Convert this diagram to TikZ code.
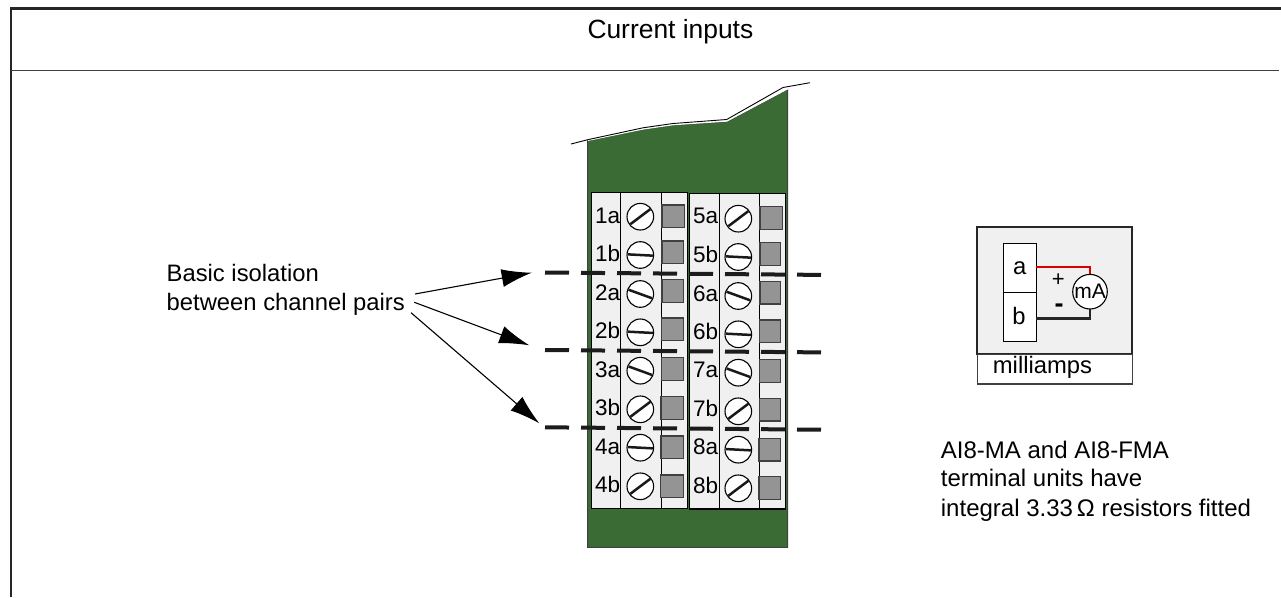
\documentclass[tikz,border=0pt]{standalone}
\usepackage{fontspec}
\setmainfont{Liberation Sans}
\usetikzlibrary{arrows.meta, calc}
\definecolor{boardgreen}{HTML}{3A6B35}
\definecolor{stripgray}{HTML}{F0F0F0}
\definecolor{pingray}{HTML}{949494}
\definecolor{dashblack}{HTML}{1C1C1C}
\tikzset{
  txt/.style={inner sep=0pt, anchor=base west, font=\fontsize{23.8}{29}\selectfont},
  strip/.style={draw=black, line width=1.1pt, fill=stripgray},
  pin/.style={draw=black!75, line width=1.1pt, fill=pingray},
  screw/.style={draw=black, line width=1.1pt, fill=white, circle, minimum size=26.6pt, inner sep=0pt},
  slot/.style={line width=2.5pt, black!90},
  iso/.style={line width=4pt, dashblack, dash pattern=on 24pt off 12pt},
  callout/.style={line width=1.1pt, -{Latex[length=30pt,width=18pt]}}
}
\newcommand{\laby}{6.5}
% one row of a terminal block: label, screw and pin
\newcommand{\termrow}[7]{
  \node[txt, font=\fontsize{22.5}{27}\selectfont] (lab#1) at (#2-45.5,#3+\laby) {#1};
  \node[screw] (sc#1) at (#2,#3) {};
  \draw[slot] ($(sc#1)+(-#4:12.5)$) -- ($(sc#1)+(180-#4:12.5)$);
  \draw[pin] (#5,#6) rectangle ++(#7,22.7);
}
\begin{document}
\begin{tikzpicture}[x=1pt,y=-1pt]
\useasboundingbox (0,0) rectangle (1281,597);
% outer frame
\draw[line width=2.4pt, black!85] (11,597) -- (11,8.5) -- (1281,8.5);
\draw[line width=1.2pt, black!75] (11,70.7) -- (1279,70.7);
\node[txt, font=\fontsize{26.4}{30}\selectfont] (title) at (587.3,38.3) {Current inputs};
% board
\draw[fill=boardgreen, draw=black!75, line width=1pt] (587.7,140.7) -- (643,129.3) -- (673,125) -- (726.7,121.7) -- (787.7,89.3) -- (787.7,547.3) -- (587.7,547.3) -- cycle;
\draw[white, line width=2pt] (587.7,140) -- (643,128.6) -- (673,124.3) -- (726.7,120.7) -- (787.7,88.3);
\draw[black, line width=.9pt] (571,144) -- (587.7,139.7) -- (643,127.8) -- (673,123.5) -- (726.7,119.5) -- (783,87.5) -- (810,82.7);
% terminal strips
\draw[strip] (591.7,192.7) rectangle (620.5,508.3);
\draw[strip] (620.5,192.7) rectangle (661.5,508.3);
\draw[strip] (661.5,192.7) rectangle (687.7,508.3);
\draw[strip] (689.3,193.3) rectangle (719.3,509);
\draw[strip] (719.3,193.3) rectangle (759.3,509);
\draw[strip] (759.3,193.3) rectangle (785.7,509);
% terminals left
\termrow{1a}{640.3}{216.7}{37}{662}{205}{22.7}
\termrow{1b}{640.3}{255}{-3}{662}{241}{21.5}
\termrow{2a}{640.3}{294}{-20}{662}{279.5}{21.5}
\termrow{2b}{640.3}{332.3}{-3}{661.5}{318}{22}
\termrow{3a}{640.3}{370.7}{-20}{661.5}{357.7}{22}
\termrow{3b}{640.3}{409.3}{37}{661}{396.5}{22.5}
\termrow{4a}{640.3}{447.7}{-3}{661}{436}{22.5}
\termrow{4b}{640.3}{486.3}{37}{660.5}{475}{23}
% terminals right
\renewcommand{\laby}{5}
\termrow{5a}{738.3}{218.7}{37}{760}{206.7}{22.5}
\termrow{5b}{738.3}{257}{-3}{760}{242.7}{20.7}
\termrow{6a}{738.3}{296}{-20}{760}{281.3}{20.7}
\termrow{6b}{738.3}{334.3}{-3}{759.5}{320}{21}
\termrow{7a}{738.3}{372.7}{-20}{759.5}{359.7}{21}
\termrow{7b}{738.3}{411.3}{37}{759.5}{398.3}{21}
\termrow{8a}{738.3}{449.7}{-3}{759}{438.3}{21.5}
\termrow{8b}{738.3}{488.3}{37}{759}{476.7}{21.5}
% isolation lines
\coordinate (isoA) at (545,272.5);
\coordinate (isoB) at (545,350);
\coordinate (isoC) at (545,427.3);
\draw[iso] (isoA) -- ++(276,2.4);
\draw[iso] (isoB) -- ++(276,2.4);
\draw[iso] (isoC) -- ++(276,2.4);
% callouts
\node[txt] (basic) at (166.5,281.7) {Basic isolation};
\node[txt] (between) at (166.5,310.7) {between channel pairs};
\coordinate (tipA) at (531.7,272.7);
\coordinate (tipB) at (529.3,345.3);
\coordinate (tipC) at (539.3,423.3);
\draw[callout] (415,294) -- (tipA);
\draw[callout] (414.3,302.3) -- (tipB);
\draw[callout] (411,312.7) -- (tipC);
% wiring inset
\draw[line width=1.8pt, black!85, fill=stripgray] (977.3,226.7) rectangle (1132.3,354.3);
\draw[line width=1.1pt, black!75, fill=white] (977.3,354.3) rectangle (1132.3,384);
\node[txt] (milli) at (992.7,373.3) {milliamps};
\draw[line width=1.1pt, fill=white] (1003.3,243.3) rectangle (1036.3,292.3);
\draw[line width=1.1pt, fill=white] (1003.3,292.3) rectangle (1036.3,341.3);
\node[txt, anchor=base] (a) at (1019.8,274) {a};
\node[txt, anchor=base] (b) at (1019,324) {b};
\draw[line width=2.2pt, red!85!black] (1036.3,266.7) -| (1090,280);
\draw[line width=2.8pt, black!85] (1036.3,318.7) -| (1090,300);
\node[draw, circle, fill=white, line width=1.1pt, minimum size=34.6pt, inner sep=0pt, font=\fontsize{21}{21}\selectfont] (mA) at (1090,291.7) {\makebox[0pt]{mA}};
\node[txt, anchor=center, font=\fontsize{22}{22}\selectfont] (plus) at (1058.3,280) {+};
\node[txt, anchor=center, font=\bfseries\fontsize{27}{27}\selectfont] (minus) at (1059,308.5) {-};
% note
\node[txt, font=\fontsize{24}{29}\selectfont] (noteA) at (940.7,458.3) {AI8-MA and AI8-FMA};
\node[txt, font=\fontsize{24}{29}\selectfont] (noteB) at (940.7,486.7) {terminal units have};
\node[txt, font=\fontsize{24}{29}\selectfont] (noteC) at (940.7,516) {integral 3.33\,Ω resistors fitted};
\end{tikzpicture}
\end{document}
